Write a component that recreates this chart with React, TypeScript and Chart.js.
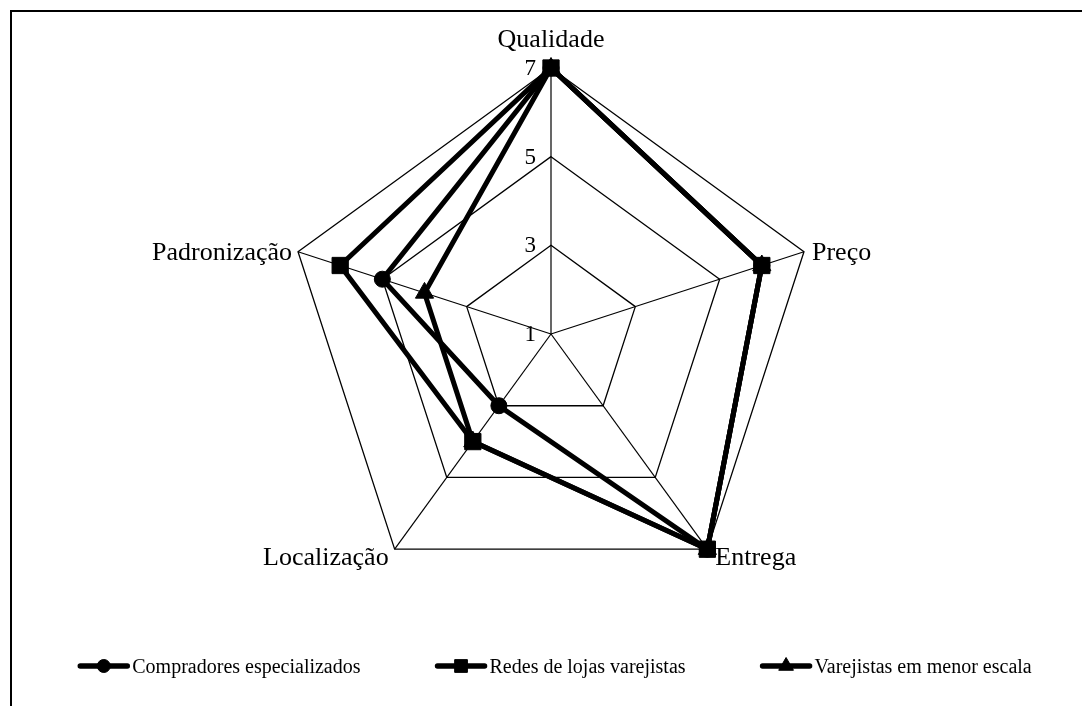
import React, { useEffect, useRef } from "react";
import { Chart, registerables } from "chart.js";

Chart.register(...registerables);

const categories = ["Qualidade", "Preço", "Entrega", "Localização", "Padronização"];
const compradores = [7, 6, 7, 3, 5];
const redes = [7, 6, 7, 4, 6];
const varejistas = [7, 6, 7, 4, 4];
const seriesNames = [
  "Compradores especializados",
  "Redes de lojas varejistas",
  "Varejistas em menor escala",
];
const tickValues = [1, 3, 5, 7];

const SERIF = '"Liberation Serif", "Times New Roman", serif';
const W = 1082;
const H = 706;

function drawMarker(ctx: CanvasRenderingContext2D, style: string, x: number, y: number, r: number) {
  ctx.beginPath();
  if (style === "circle") {
    ctx.arc(x, y, r, 0, Math.PI * 2);
  } else if (style === "rect") {
    const s = Math.SQRT1_2 * r;
    ctx.rect(x - s, y - s, 2 * s, 2 * s);
  } else if (style === "triangle") {
    let a = 0;
    ctx.moveTo(x + Math.sin(a) * r, y - Math.cos(a) * r);
    a += (2 * Math.PI) / 3;
    ctx.lineTo(x + Math.sin(a) * r, y - Math.cos(a) * r);
    a += (2 * Math.PI) / 3;
    ctx.lineTo(x + Math.sin(a) * r, y - Math.cos(a) * r);
    ctx.closePath();
  }
  ctx.fill();
  ctx.stroke();
}

const framePlugin = {
  id: "frame",
  beforeDraw(chart: any) {
    const ctx = chart.ctx as CanvasRenderingContext2D;
    ctx.save();
    ctx.fillStyle = "#ffffff";
    ctx.fillRect(0, 0, chart.width, chart.height);
    ctx.strokeStyle = "#000000";
    ctx.lineWidth = 2;
    ctx.beginPath();
    ctx.moveTo(11, chart.height + 5);
    ctx.lineTo(11, 11);
    ctx.lineTo(chart.width + 5, 11);
    ctx.stroke();
    ctx.restore();
  },
};

const labelsPlugin = {
  id: "radarLabels",
  afterDraw(chart: any) {
    const ctx = chart.ctx as CanvasRenderingContext2D;
    const scale = chart.scales.r;
    const outer = scale.getDistanceFromCenterForValue(scale.max);
    ctx.save();
    ctx.fillStyle = "#000000";
    ctx.font = `26px ${SERIF}`;
    ctx.textBaseline = "alphabetic";
    (chart.data.labels as string[]).forEach((lab, i) => {
      const p = scale.getPointPosition(i, outer);
      const dx = p.x - scale.xCenter;
      const dy = p.y - scale.yCenter;
      let x = p.x;
      let y = p.y;
      if (Math.abs(dx) < 2) {
        ctx.textAlign = "center";
        y = p.y - 21;
      } else if (dx > 0) {
        ctx.textAlign = "left";
        x = p.x + 8;
        y = p.y + (dy > 0 ? 16 : 8);
      } else {
        ctx.textAlign = "right";
        x = p.x - 6;
        y = p.y + (dy > 0 ? 16 : 8);
      }
      ctx.fillText(lab, x, y);
    });
    ctx.font = `23px ${SERIF}`;
    ctx.textAlign = "right";
    ctx.textBaseline = "middle";
    scale.ticks.forEach((t: any) => {
      const d = scale.getDistanceFromCenterForValue(t.value);
      const p = scale.getPointPosition(0, d);
      ctx.fillText(String(t.value), p.x - 15, p.y + 1);
    });
    ctx.restore();
  },
};

const legendPlugin = {
  id: "lineLegend",
  afterDraw(chart: any) {
    const ctx = chart.ctx as CanvasRenderingContext2D;
    const datasets = chart.data.datasets as any[];
    ctx.save();
    ctx.font = `20px ${SERIF}`;
    const lineLen = 51;
    const textGap = 3;
    const itemGap = 75;
    const widths = datasets.map((d) => lineLen + textGap + ctx.measureText(d.label).width);
    const total = widths.reduce((a, b) => a + b, 0) + itemGap * (datasets.length - 1);
    const centerX = 555;
    const yMid = 666;
    let x = centerX - total / 2;
    datasets.forEach((d, i) => {
      ctx.strokeStyle = "#000000";
      ctx.lineWidth = 5.5;
      ctx.lineCap = "round";
      ctx.beginPath();
      ctx.moveTo(x + 2, yMid);
      ctx.lineTo(x + lineLen - 2, yMid);
      ctx.stroke();
      ctx.lineCap = "butt";
      ctx.lineWidth = 1;
      ctx.fillStyle = "#000000";
      const r = d.pointStyle === "circle" ? 6.5 : d.pointStyle === "rect" ? 9 : 8.5;
      drawMarker(ctx, d.pointStyle, x + lineLen / 2, yMid, r);
      ctx.textAlign = "left";
      ctx.textBaseline = "alphabetic";
      ctx.fillText(d.label, x + lineLen + textGap, yMid + 7);
      x += widths[i] + itemGap;
    });
    ctx.restore();
  },
};

export default function App() {
  const ref = useRef<HTMLCanvasElement | null>(null);

  useEffect(() => {
    if (!ref.current) return;
    const common = {
      borderColor: "#000000",
      borderWidth: 5,
      pointBackgroundColor: "#000000",
      pointBorderColor: "#000000",
      pointBorderWidth: 1,
      fill: false,
      backgroundColor: "rgba(0,0,0,0)",
    };
    const chart = new Chart(ref.current, {
      type: "radar",
      data: {
        labels: categories,
        datasets: [
          { ...common, label: seriesNames[0], data: compradores, pointStyle: "circle", pointRadius: 8, order: 1 },
          { ...common, label: seriesNames[1], data: redes, pointStyle: "rect", pointRadius: 11.5, order: 0 },
          { ...common, label: seriesNames[2], data: varejistas, pointStyle: "triangle", pointRadius: 10.5, order: 2 },
        ],
      },
      options: {
        responsive: false,
        animation: false,
        devicePixelRatio: 1,
        layout: { padding: { top: 68, bottom: 106, left: 285, right: 265 } },
        plugins: {
          legend: { display: false },
          tooltip: { enabled: false },
          title: { display: false },
        },
        elements: { line: { tension: 0 } },
        scales: {
          r: {
            min: tickValues[0],
            max: tickValues[tickValues.length - 1],
            ticks: { stepSize: tickValues[1] - tickValues[0], display: false },
            pointLabels: { display: false },
            grid: { color: "#000000", lineWidth: 1.3 },
            angleLines: { color: "#000000", lineWidth: 1.2 },
          },
        },
      } as any,
      plugins: [framePlugin, labelsPlugin, legendPlugin],
    });
    return () => chart.destroy();
  }, []);

  return (
    <div style={{ position: "absolute", left: 0, top: 0, width: W, height: H, background: "#fff" }}>
      <canvas ref={ref} width={W} height={H} style={{ display: "block" }} />
    </div>
  );
}
